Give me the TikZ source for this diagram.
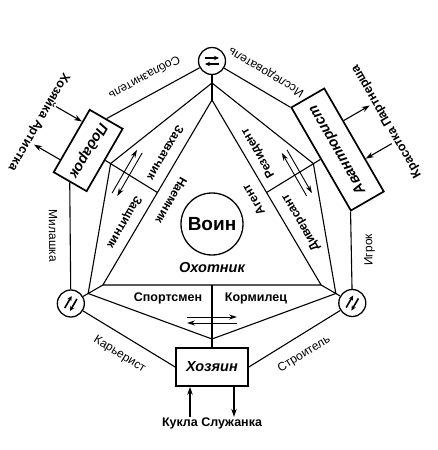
\documentclass[tikz,border=0pt]{standalone}
\usepackage{fontspec}
\setmainfont{Liberation Sans}
\usetikzlibrary{calc,arrows.meta}

\begin{document}
\begin{tikzpicture}[x=1pt,y=1pt,line width=1.1pt,
    role/.style={draw,line width=1.7pt,minimum height=38pt,inner sep=2pt,
      font=\fontsize{14.5}{16}\selectfont\bfseries\itshape},
    pole/.style={draw,circle,line width=1.3pt,minimum size=27pt,inner sep=0pt},
    edgelab/.style={sloped,allow upside down,below=9pt,font=\fontsize{12}{14}\selectfont},
    sidelab/.style={font=\fontsize{12}{14}\selectfont\bfseries},
    pairlab/.style={font=\fontsize{12.5}{14}\selectfont\bfseries},
    swap/.style={line width=0.9pt,-{Stealth[length=8pt,width=5pt]}},
    flow/.style={line width=1.1pt,-{Stealth[length=8pt,width=5.5pt]}},
    pin/.style={line width=1.6pt,-{Stealth[length=5pt,width=4.5pt]}}]

\useasboundingbox (-212,-228) rectangle (225,222);

% poles
\node[pole] (tc) at (90:161) {};
\node[pole] (lc) at (210:163) {};
\node[pole] (rc) at (330:162) {};

% roles
\node[role,minimum width=72pt,rotate=-120] (pod) at (150:143) {Подарок};
\node[role,minimum width=72pt] (hoz) at (270:145) {Хозяин};
\node[role,minimum width=119pt,rotate=120] (avt) at (30:145) {Авантюрист};

\node[draw,circle,line width=1.3pt,minimum size=62pt,
  font=\fontsize{19}{21}\selectfont\bfseries] (voin) at (0,-2) {Воин};

% corners
\coordinate (va) at (90:139);
\coordinate (vl) at (210:143);
\coordinate (vr) at (330:143);
\coordinate (ib) at (90:122);
\coordinate (ic) at (210:126);
\coordinate (id) at (330:126);
\coordinate (kp) at (150:117);
\coordinate (kh) at (270:117);
\coordinate (kq) at (30:117);

% triangle and kites
\draw (ib) -- (ic) -- (id) -- cycle;
\draw (tc) -- (va) -- (ib);
\draw (lc) -- (vl) -- (ic);
\draw (rc) -- (vr) -- (id);
\draw (va) -- (kp) -- (vl) -- (kh) -- (vr) -- (kq) -- (va);
\draw (pod.north) -- ($(ib)!.5!(ic)$);
\draw (hoz.north) -- ($(ic)!.5!(id)$);
\draw (avt.north) -- ($(ib)!.5!(id)$);

% outer ring
\draw (tc) -- node[edgelab] {Соблазнитель} (pod.west);
\draw (pod.east) -- node[edgelab] {Милашка} (lc);
\draw (lc) -- node[edgelab] {Карьерист} (hoz.west);
\draw (hoz.east) -- node[edgelab] {Строитель} (rc);
\draw (rc) -- node[edgelab] {Игрок} (avt.north west);
\draw (avt.north east) -- node[edgelab] {Исследователь} (tc);

% partners
\node[pairlab] (kukla) at ($(hoz.south)+(0,-37)$) {Кукла Служанка};
\node[pairlab,rotate=-120] (hozka) at ($(pod.south)+(150:37)$) {Хозяйка Артистка};
\node[pairlab,rotate=120] (krasa) at ($(avt.south)+(30:37)$) {Красотка Партнерша};
\draw[flow] ($(hoz.south)+(-22,-30)$) -- ($(hoz.south)+(-22,0)$);
\draw[flow] ($(hoz.south)+(22,0)$) -- ($(hoz.south)+(22,-30)$);
\draw[flow] ($(pod.south)+(60:22)+(150:30)$) -- ($(pod.south)+(60:22)$);
\draw[flow] ($(pod.south)+(240:22)$) -- ($(pod.south)+(240:22)+(150:30)$);
\draw[flow] ($(avt.south)+(300:22)+(30:30)$) -- ($(avt.south)+(300:22)$);
\draw[flow] ($(avt.south)+(120:22)$) -- ($(avt.south)+(120:22)+(30:30)$);

% exchange arrows
\draw[swap] ($(270:95)+(180:25)$) -- ($(270:95)+(0:25)$);
\draw[swap] ($(270:101)+(0:25)$) -- ($(270:101)+(180:25)$);
\draw[swap] ($(150:95)+(60:25)$) -- ($(150:95)+(240:25)$);
\draw[swap] ($(150:101)+(240:25)$) -- ($(150:101)+(60:25)$);
\draw[swap] ($(30:95)+(300:25)$) -- ($(30:95)+(120:25)$);
\draw[swap] ($(30:101)+(120:25)$) -- ($(30:101)+(300:25)$);

% pole marks
\draw[pin] ($(tc)+(-7,3)$) -- ($(tc)+(7,3)$);
\draw[pin] ($(tc)+(7,-3)$) -- ($(tc)+(-7,-3)$);
\draw[pin] ($(lc)+(150:3)+(240:7)$) -- ($(lc)+(150:3)+(60:7)$);
\draw[pin] ($(lc)+(330:3)+(60:7)$) -- ($(lc)+(330:3)+(240:7)$);
\draw[pin] ($(rc)+(150:3)+(240:7)$) -- ($(rc)+(150:3)+(60:7)$);
\draw[pin] ($(rc)+(330:3)+(60:7)$) -- ($(rc)+(330:3)+(240:7)$);

% labels
\node[pairlab] (sport) at (240:88) {Спортсмен};
\node[pairlab] (korm) at (300:88) {Кормилец};
\node[sidelab,rotate=-120] (zahv) at (124:83) {Захватчик};
\node[sidelab,rotate=-120] (zasch) at (180:88) {Защитник};
\node[sidelab,rotate=120] (rez) at (56:83) {Резидент};
\node[sidelab,rotate=120] (div) at (0:89) {Диверсант};
\node[sidelab,rotate=-120] (naem) at (152:46) {Наемник};
\node[sidelab,rotate=120] (agent) at (28:47) {Агент};
\node[font=\fontsize{14.5}{16}\selectfont\bfseries\itshape] (ohot) at (270:46) {Охотник};
\end{tikzpicture}
\end{document}
